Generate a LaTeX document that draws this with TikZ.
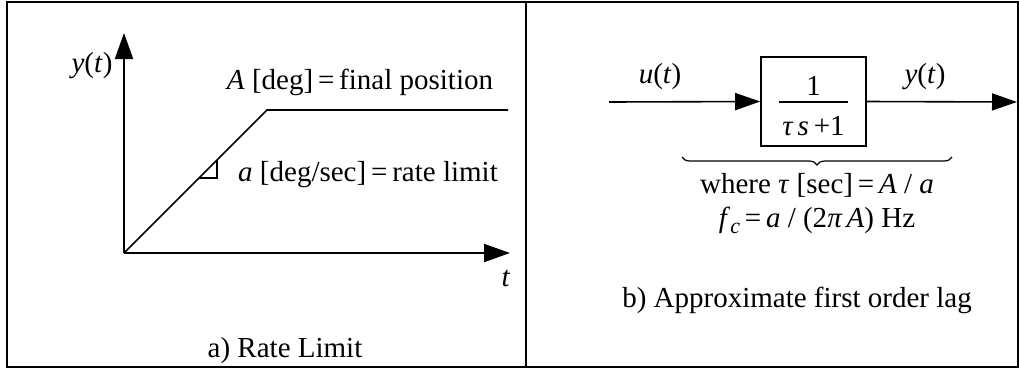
\documentclass[tikz,border=0pt]{standalone}
\usepackage{fontspec}
\setmainfont{Liberation Serif}
\usetikzlibrary{arrows.meta,decorations.pathreplacing,positioning}

\begin{document}
\begin{tikzpicture}[x=1pt,y=-1pt,
    axis/.style={line width=2pt, -{Triangle[length=26pt,width=18pt]}},
    signal/.style={line width=1.6pt, -{Triangle[length=25pt,width=17pt]}},
    curve/.style={line width=1.6pt},
    block/.style={rectangle, draw, line width=1.6pt, minimum width=105pt,
                  minimum height=89pt, inner sep=0pt},
    lbl/.style={inner sep=0pt, font=\fontsize{29}{34}\selectfont},
    brace/.style={decorate, decoration={brace, mirror, amplitude=8pt}, line width=1.2pt}
]
    \useasboundingbox (0,0) rectangle (1019,368);
    % Frame
    \draw[line width=2pt] (7,1.5) rectangle (1017.5,366.5);
    \draw[line width=2pt] (526,1.5) -- (526,366.5);

    % a) Rate limit
    \coordinate (O) at (124,253);
    \coordinate (ytop) at (124,33);
    \coordinate (tend) at (510,253);
    \coordinate (knee) at (267,110);
    \coordinate (hold) at (508,110);
    \draw[axis] (O) -- (ytop);
    \draw[axis] (O) -- (tend);
    \draw[curve] (O) -- (knee) -- (hold);
    \draw[line width=1.2pt] (199,178) -- (217,178) -- (217,160);
    \node[lbl] (ylab) at (92,66) {\textit{y}(\textit{t})};
    \node[lbl] (tlab) at (506,278) {\textit{t}};
    \node[lbl] (final) at (360,82) {\textit{A} [deg]\,=\,final position};
    \node[lbl] (rate) at (368,175) {\textit{a} [deg/sec]\,=\,rate limit};
    \node[lbl] (capa) at (285,351) {a) Rate Limit};

    % b) First order lag
    \node[block] (lag) at (813.5,101.5) {\fontsize{29}{34}\selectfont
        \setlength{\arrayrulewidth}{1.2pt}\setlength{\tabcolsep}{3pt}%
        \begin{tabular}{c}\rule{0pt}{38pt}1\\[-4pt]\hline
        \rule{0pt}{33pt}\textit{τ\,s}\,+1\end{tabular}};
    \coordinate (uin) at (609,102);
    \coordinate (yout) at (1017,102);
    \draw[signal] (uin) -- (lag.west);
    \draw[signal] (lag.east) -- (yout);
    \node[lbl] (ulab) at (660,77) {\textit{u}(\textit{t})};
    \node[lbl] (youtlab) at (925,77) {\textit{y}(\textit{t})};
    \coordinate (bl) at (682,157);
    \coordinate (br) at (952,157);
    \draw[brace] (bl) -- (br);
    \node[lbl] (tau) at (817,185) {where \textit{τ} [sec]\,=\,\textit{A} / \textit{a}};
    \node[lbl] (fc) at (817,220) {\textit{f}\raisebox{-6pt}{\fontsize{22}{24}\selectfont\textit{c}}\,=\,\textit{a} / (2\textit{π\,A}) Hz};
    \node[lbl] (capb) at (797,300) {b) Approximate first order lag};
\end{tikzpicture}
\end{document}
